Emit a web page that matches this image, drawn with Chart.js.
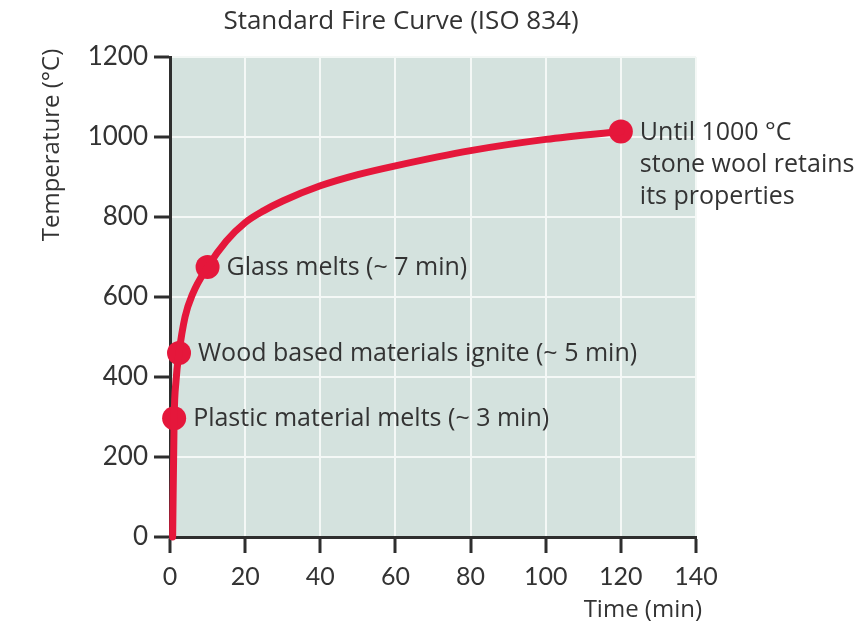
<!DOCTYPE html>
<html>
<head>
<meta charset="utf-8">
<script src="https://cdn.jsdelivr.net/npm/chart.js@4"></script>
<style>
  html, body { margin: 0; padding: 0; background: #ffffff; }
  #wrap { width: 865px; height: 628px; }
</style>
</head>
<body>
<div id="wrap"><canvas id="fireChart" width="865" height="628"></canvas></div>
<script>
// Curve data (ISO 834 standard fire curve)
const timeMin = [0.7, 1.1, 1.6, 2.4, 4, 6, 10, 15, 20, 25, 30, 40, 50, 60, 80, 100, 120];
const tempC   = [0, 297, 390, 460, 550, 607, 675, 740, 786, 816, 840, 878, 906, 928, 966, 994, 1014];

// Highlighted points and their notes
const markerTime = [1.1, 2.4, 10, 120];
const markerTemp = [297, 460, 675, 1014];
const markerNotes = [
  ['Plastic material melts (~ 3 min)'],
  ['Wood based materials ignite (~ 5 min)'],
  ['Glass melts (~ 7 min)'],
  ['Until 1000 °C', 'stone wool retains', 'its properties']
];

// Axis ticks
const xTicks = [0, 20, 40, 60, 80, 100, 120, 140];
const yTicks = [0, 200, 400, 600, 800, 1000, 1200];

const chartTitle = 'Standard Fire Curve (ISO 834)';
const xTitle = 'Time (min)';
const yTitle = 'Temperature (°C)';

const COLORS = {
  red: '#e5173b',
  text: '#333333',
  axis: '#2e2e2e',
  plotBg: '#d4e2de',
  grid: '#f4f8f6'
};
const TEXT_FONT = '"Open Sans", Lato, sans-serif';
const TICK_FONT = 'Lato, "Open Sans", sans-serif';

// Plot area background
const plotBackground = {
  id: 'plotBackground',
  beforeDraw(chart) {
    const { ctx, chartArea: a } = chart;
    ctx.save();
    ctx.fillStyle = COLORS.plotBg;
    ctx.fillRect(a.left, a.top, a.right - a.left, a.bottom - a.top);
    ctx.restore();
  }
};

// Titles and point notes
const textLayer = {
  id: 'textLayer',
  afterDatasetsDraw(chart) {
    const { ctx, scales } = chart;
    ctx.save();
    ctx.fillStyle = COLORS.text;

    // notes next to each marker
    ctx.font = '25px ' + TEXT_FONT;
    ctx.textAlign = 'left';
    ctx.textBaseline = 'middle';
    markerNotes.forEach((lines, i) => {
      const px = scales.x.getPixelForValue(markerTime[i]) + 19;
      const py = scales.y.getPixelForValue(markerTemp[i]) + 1;
      lines.forEach((line, j) => ctx.fillText(line, px, py + j * 32));
    });

    // chart title
    ctx.font = '26px ' + TEXT_FONT;
    ctx.textAlign = 'center';
    ctx.fillText(chartTitle, 401, 22);

    // axis titles
    ctx.font = '24px ' + TEXT_FONT;
    ctx.textAlign = 'right';
    ctx.fillText(xTitle, 702, 610);

    ctx.translate(52, 145);
    ctx.rotate(-Math.PI / 2);
    ctx.textAlign = 'center';
    ctx.fillText(yTitle, 0, 0);
    ctx.restore();
  }
};

const ctx = document.getElementById('fireChart').getContext('2d');

new Chart(ctx, {
  type: 'scatter',
  data: {
    datasets: [
      {
        label: 'Fire curve',
        data: timeMin.map((t, i) => ({ x: t, y: tempC[i] })),
        showLine: true,
        borderColor: COLORS.red,
        borderWidth: 7,
        pointRadius: 0,
        cubicInterpolationMode: 'monotone',
        borderCapStyle: 'round',
        fill: false
      },
      {
        label: 'Markers',
        data: markerTime.map((t, i) => ({ x: t, y: markerTemp[i] })),
        backgroundColor: COLORS.red,
        borderColor: COLORS.red,
        borderWidth: 0,
        pointRadius: 12,
        pointHoverRadius: 12
      }
    ]
  },
  options: {
    responsive: false,
    animation: false,
    clip: false,
    layout: { padding: { left: 0, top: 57, right: 169, bottom: 0 } },
    plugins: {
      legend: { display: false },
      tooltip: { enabled: false },
      title: { display: false }
    },
    scales: {
      x: {
        type: 'linear',
        min: 0,
        max: 140,
        afterFit: (scale) => { scale.height = 91; },
        afterBuildTicks: (scale) => { scale.ticks = xTicks.map(v => ({ value: v })); },
        ticks: {
          color: COLORS.text,
          font: { family: TICK_FONT, size: 25 },
          padding: 9,
          maxRotation: 0,
          callback: (v) => String(v)
        },
        grid: {
          color: COLORS.grid,
          lineWidth: 2,
          tickColor: COLORS.axis,
          tickLength: 16,
          tickWidth: 3
        },
        border: { color: COLORS.axis, width: 3 }
      },
      y: {
        min: 0,
        max: 1200,
        afterFit: (scale) => { scale.width = 170; },
        afterBuildTicks: (scale) => { scale.ticks = yTicks.map(v => ({ value: v })); },
        ticks: {
          color: COLORS.text,
          font: { family: TICK_FONT, size: 26 },
          padding: 6,
          callback: (v) => String(v)
        },
        grid: {
          color: COLORS.grid,
          lineWidth: 2,
          tickColor: COLORS.axis,
          tickLength: 16,
          tickWidth: 3
        },
        border: { color: COLORS.axis, width: 3 }
      }
    }
  },
  plugins: [plotBackground, textLayer]
});
</script>
</body>
</html>
